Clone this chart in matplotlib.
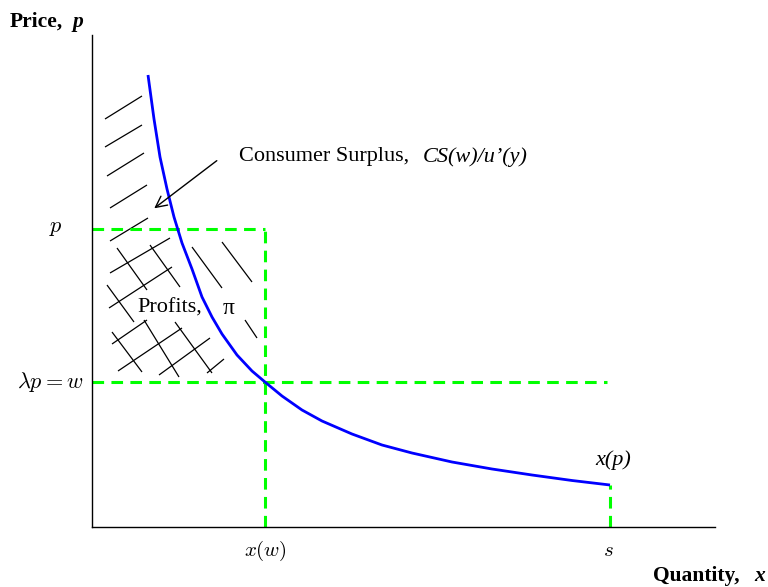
import matplotlib.pyplot as plt
from matplotlib.collections import LineCollection

plt.rcParams['font.family'] = ['Liberation Serif', 'DejaVu Serif']
plt.rcParams['mathtext.fontset'] = 'cm'

curve_x = [0.56, 0.62, 0.68, 0.75, 0.82, 0.90, 1.00, 1.10, 1.20, 1.30,
           1.45, 1.60, 1.73, 1.90, 2.10, 2.30, 2.60, 2.90, 3.20, 3.60,
           4.00, 4.40, 4.80, 5.18]
curve_y = [4.52, 4.08, 3.70, 3.38, 3.10, 2.84, 2.58, 2.30, 2.10, 1.93,
           1.72, 1.56, 1.45, 1.31, 1.17, 1.06, 0.93, 0.82, 0.74, 0.65,
           0.58, 0.52, 0.465, 0.42]

# key levels
p_level = 2.98
w_level = 1.45
x_w = 1.73
s_val = 5.18
w_line_end = 5.15

# hand drawn hatch strokes ((x0, y0), (x1, y1))
surplus_strokes = [
    ((0.13, 4.08), (0.50, 4.31)),
    ((0.13, 3.80), (0.50, 4.02)),
    ((0.15, 3.51), (0.52, 3.74)),
    ((0.18, 3.19), (0.55, 3.42)),
    ((0.18, 2.86), (0.56, 3.09)),
    ((1.00, 2.80), (1.30, 2.39)),
    ((1.30, 2.85), (1.60, 2.45)),
    ((1.53, 2.07), (1.65, 1.89)),
]
profit_strokes = [
    ((0.18, 2.54), (0.78, 2.89)),
    ((0.17, 2.19), (0.80, 2.60)),
    ((0.20, 1.83), (0.55, 2.07)),
    ((0.26, 1.56), (0.90, 1.99)),
    ((0.67, 1.52), (1.18, 1.89)),
    ((1.15, 1.54), (1.32, 1.68)),
    ((0.25, 2.79), (0.55, 2.37)),
    ((0.58, 2.82), (0.88, 2.40)),
    ((0.15, 2.42), (0.42, 2.05)),
    ((0.20, 1.95), (0.50, 1.55)),
    ((0.52, 2.07), (0.87, 1.50)),
    ((0.83, 2.05), (1.20, 1.54)),
]

arrow_tail = (1.27, 3.68)
arrow_head = (0.60, 3.17)

fig = plt.figure(figsize=(7.68, 5.87), dpi=100)
ax = fig.add_axes([92 / 768, 60 / 587, 623 / 768, 492 / 587])
ax.set_xlim(0, 6.23)
ax.set_ylim(0, 4.92)
for side in ['top', 'right']:
    ax.spines[side].set_visible(False)
for side in ['left', 'bottom']:
    ax.spines[side].set_linewidth(1.0)
ax.set_xticks([])
ax.set_yticks([])

ax.add_collection(LineCollection(surplus_strokes + profit_strokes,
                                 colors='black', linewidths=0.9))

dash = dict(color='#00ff00', lw=2.2, dashes=(3.8, 2.4), clip_on=False)
ax.plot([0, x_w], [p_level, p_level], **dash)
ax.plot([x_w, x_w], [0, p_level], **dash)
ax.plot([0, w_line_end], [w_level, w_level], **dash)
ax.plot([s_val, s_val], [0, curve_y[-1]], **dash)

ax.plot(curve_x, curve_y, color='#0000ff', lw=2.0, solid_capstyle='butt',
        solid_joinstyle='round')

ax.annotate('', xy=arrow_head, xytext=arrow_tail,
            arrowprops=dict(arrowstyle='->', color='black', lw=1.0,
                            mutation_scale=20))

ax.text(1.47, 3.70, 'Consumer Surplus,', fontsize=16, va='center')
ax.text(3.31, 3.70, 'CS(w)/u\u2019(y)', fontsize=16, style='italic',
        va='center')
ax.text(0.45, 2.19, 'Profits,', fontsize=16, va='center')
ax.text(1.31, 2.19, '\u03c0', fontsize=17, va='center',
        family=['Liberation Serif', 'DejaVu Serif'])
ax.text(5.21, 0.67, 'x(p)', fontsize=16, style='italic', ha='center',
        va='center')

ax.text(-0.36, p_level, '$p$', fontsize=16, ha='center', va='center')
ax.text(-0.09, w_level, r'$\lambda p = w$', fontsize=16, ha='right',
        va='center')
ax.text(x_w, -0.24, '$x(w)$', fontsize=15, ha='center', va='center')
ax.text(5.16, -0.24, '$s$', fontsize=15, ha='center', va='center')

fig.text(10 / 768, 1 - 22 / 587, 'Price,', fontsize=15.5,
         fontweight='bold', va='center')
fig.text(73 / 768, 1 - 22 / 587, 'p', fontsize=15.5, fontweight='bold',
         style='italic', va='center')
fig.text(653 / 768, 1 - 576 / 587, 'Quantity,', fontsize=15.5,
         fontweight='bold', va='center')
fig.text(754 / 768, 1 - 576 / 587, 'x', fontsize=15.5, fontweight='bold',
         style='italic', va='center')

fig.savefig('out.png', dpi=100)
